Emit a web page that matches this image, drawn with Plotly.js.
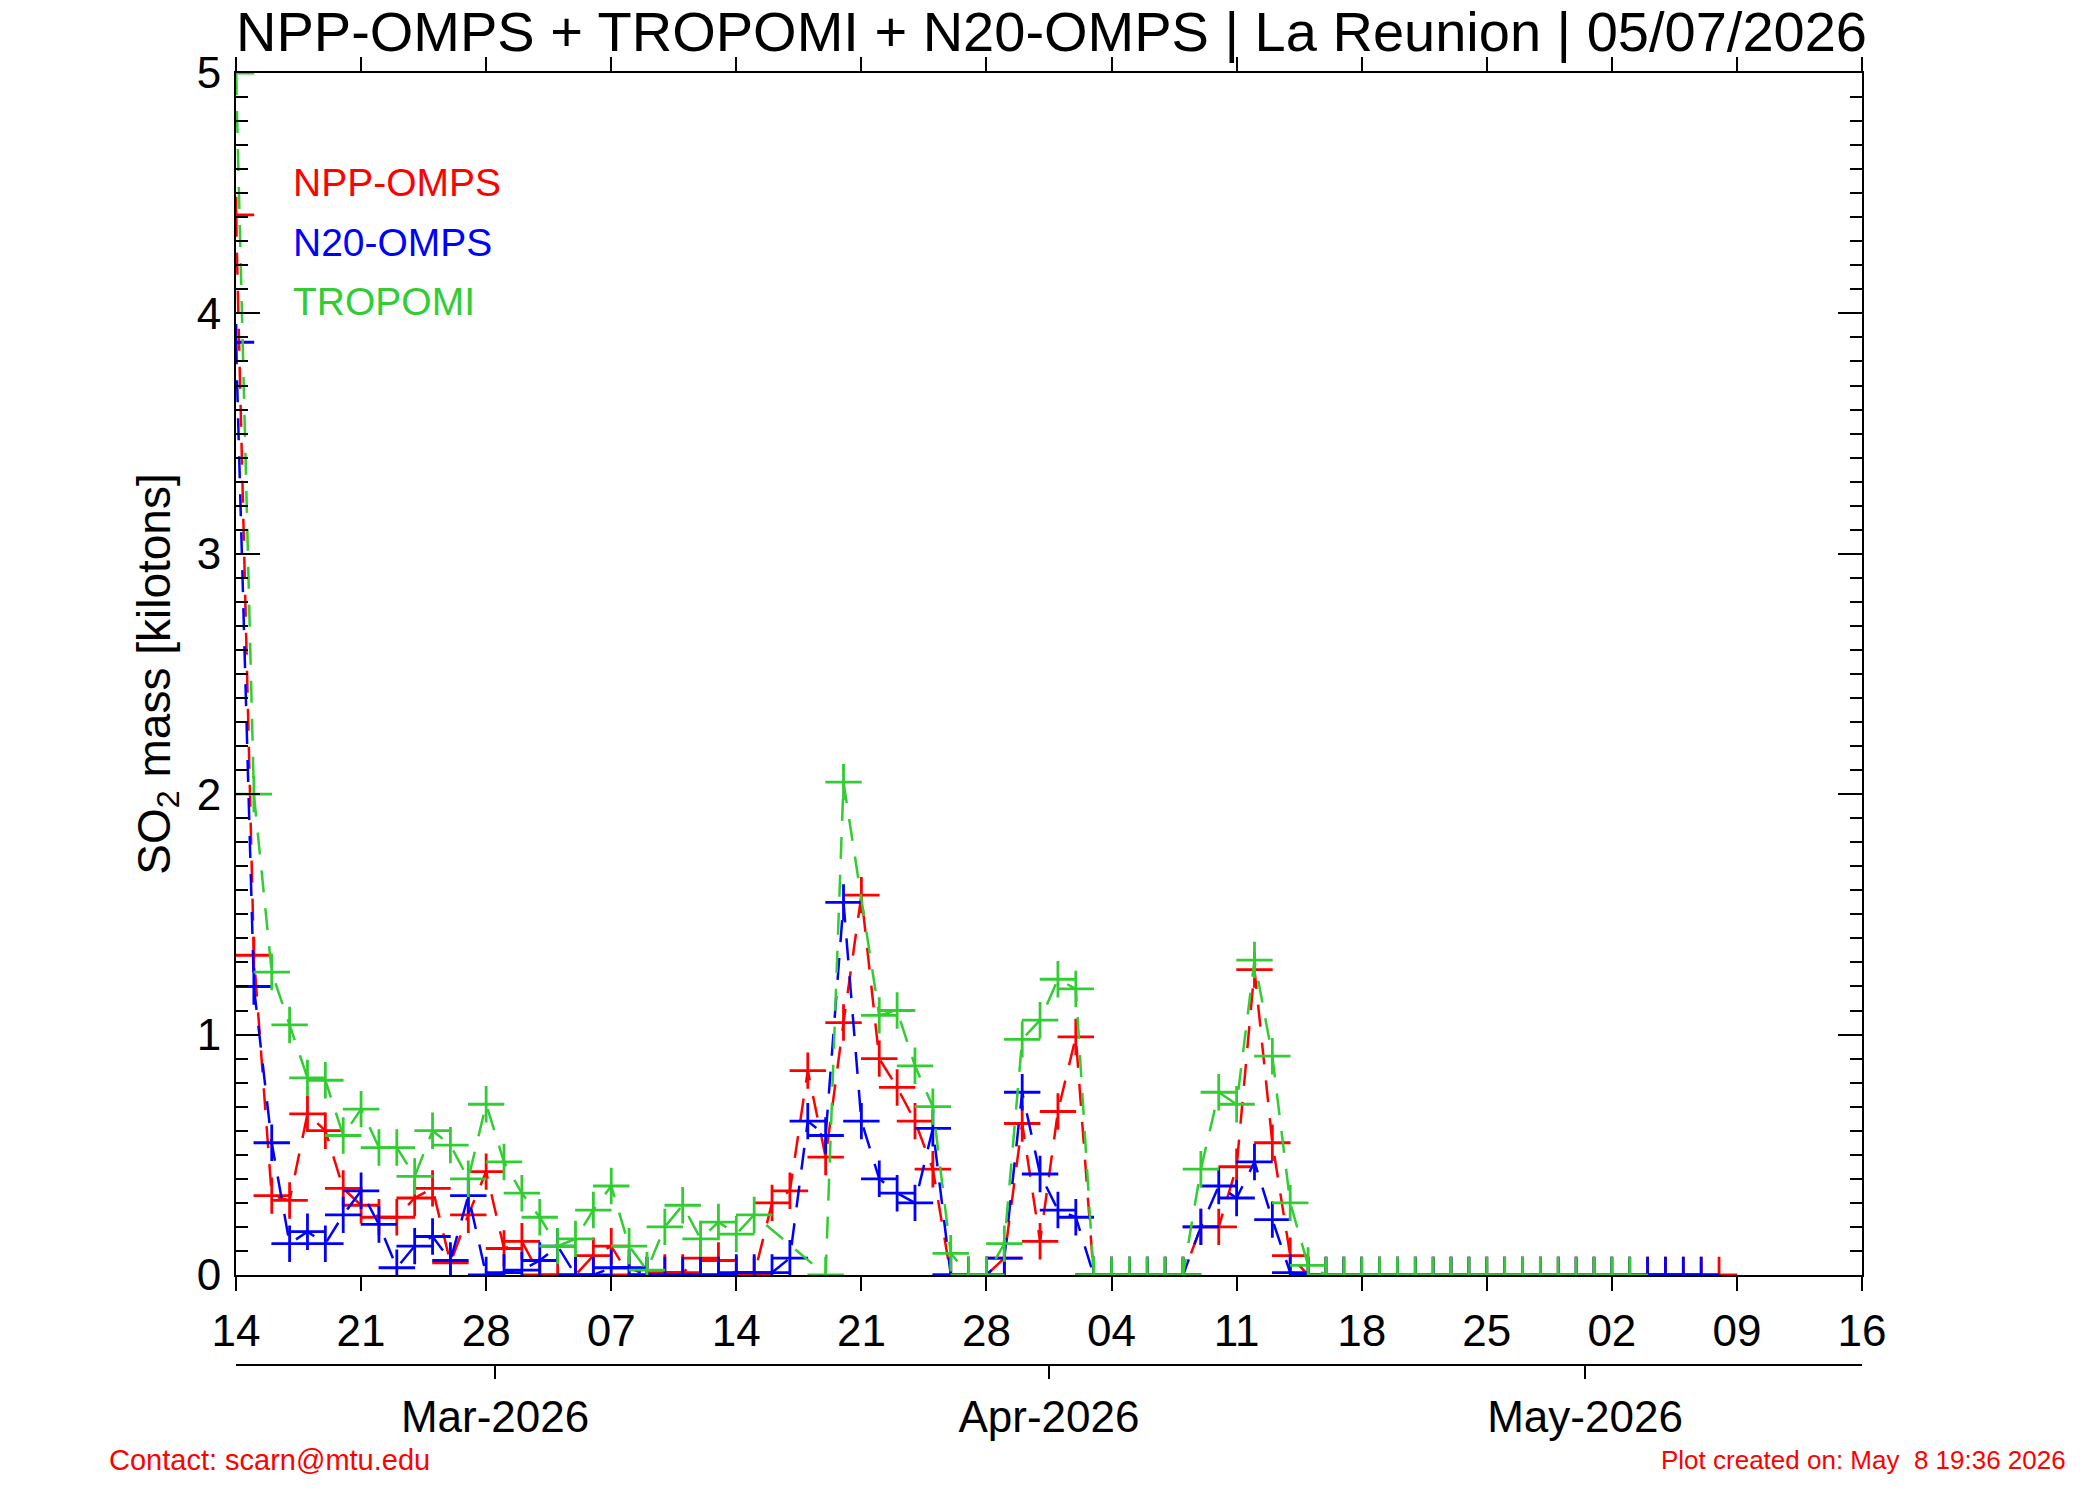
<!DOCTYPE html>
<html>
<head>
<meta charset="utf-8">
<script src="https://cdn.plot.ly/plotly-3.0.1.min.js"></script>
<style>html,body{margin:0;padding:0;background:#fff;}#chart{width:2100px;height:1500px;}</style>
</head>
<body>
<div id="chart"></div>
<script>
// ---- data (daily values, kilotons) ----
const dates = [
 '2026-02-14','2026-02-15','2026-02-16','2026-02-17','2026-02-18','2026-02-19','2026-02-20',
 '2026-02-21','2026-02-22','2026-02-23','2026-02-24','2026-02-25','2026-02-26','2026-02-27',
 '2026-02-28','2026-03-01','2026-03-02','2026-03-03','2026-03-04','2026-03-05','2026-03-06',
 '2026-03-07','2026-03-08','2026-03-09','2026-03-10','2026-03-11','2026-03-12','2026-03-13',
 '2026-03-14','2026-03-15','2026-03-16','2026-03-17','2026-03-18','2026-03-19','2026-03-20',
 '2026-03-21','2026-03-22','2026-03-23','2026-03-24','2026-03-25','2026-03-26','2026-03-27',
 '2026-03-28','2026-03-29','2026-03-30','2026-03-31','2026-04-01','2026-04-02','2026-04-03',
 '2026-04-04','2026-04-05','2026-04-06','2026-04-07','2026-04-08','2026-04-09','2026-04-10',
 '2026-04-11','2026-04-12','2026-04-13','2026-04-14','2026-04-15','2026-04-16','2026-04-17',
 '2026-04-18','2026-04-19','2026-04-20','2026-04-21','2026-04-22','2026-04-23','2026-04-24',
 '2026-04-25','2026-04-26','2026-04-27','2026-04-28','2026-04-29','2026-04-30','2026-05-01',
 '2026-05-02','2026-05-03','2026-05-04','2026-05-05','2026-05-06','2026-05-07','2026-05-08'
];

const nppOmps = [
 4.41,1.33,0.33,0.31,0.67,0.60,0.36,
 0.29,0.24,0.24,0.32,0.36,0.05,0.25,
 0.43,0.11,0.14,0,0,0,0.08,
 0.12,0,0,0.01,0.01,0.07,0.06,
 0,0,0.30,0.35,0.85,0.49,1.05,
 1.58,0.90,0.78,0.64,0.44,0,0,
 0,0.07,0.63,0.14,0.68,0.99,0,
 0,0,0,0,0,0.20,0.20,
 0.45,1.27,0.55,0.08,0,0,0,
 0,0,0,0,0,0,0,
 0,0,0,0,0,0,0,
 0,0,0,0,0,0,0
];

const n20Omps = [
 3.88,1.20,0.55,0.13,0.18,0.13,0.25,
 0.35,0.21,0.03,0.12,0.16,0.06,0.33,
 0,0.01,0.02,0.06,0.12,0,0,
 0.03,0.03,0,0,0,0,0,
 0.01,0.01,0.01,0.07,0.64,0.58,1.55,
 0.64,0.40,0.34,0.30,0.61,0,0,
 0,0.07,0.76,0.42,0.27,0.24,0,
 0,0,0,0,0,0.20,0.37,
 0.32,0.47,0.23,0.01,0,0,0,
 0,0,0,0,0,0,0,
 0,0,0,0,0,0,0,
 0,0,0,0,0,0
];

const tropomi = [
 5.00,2.00,1.26,1.04,0.82,0.81,0.58,
 0.69,0.53,0.53,0.41,0.60,0.54,0.40,
 0.71,0.47,0.34,0.24,0.12,0.15,0.27,
 0.37,0.12,0.02,0.20,0.29,0.15,0.22,
 0.17,0.25,null,null,null,0,2.05,
 null,1.08,1.10,0.87,0.70,0.09,0,
 0,0.13,0.98,1.06,1.23,1.19,0,
 0,0,0,0,0,0.44,0.76,
 0.71,1.31,0.91,0.30,0.04,0,0,
 0,0,0,0,0,0,0,
 0,0,0,0,0,0,0,
 0,0
];

const seriesNames = ['NPP-OMPS', 'N20-OMPS', 'TROPOMI'];
const seriesColors = ['#FF0000', '#0000FF', '#32CD32'];

const xRange = ['2026-02-14', '2026-05-16'];
const monthTickVals = ['2026-02-28 12:00', '2026-03-31 12:00', '2026-04-30 12:00'];
const monthTickText = ['Mar-2026', 'Apr-2026', 'May-2026'];

const titleText = 'NPP-OMPS + TROPOMI + N20-OMPS | La Reunion | 05/07/2026';
const yTitleText = 'SO<sub>2</sub> mass [kilotons]';
const contactText = 'Contact: scarn@mtu.edu';
const createdText = 'Plot created on: May\u00a0 8 19:36 2026';

// ---- traces ----
const seriesValues = [nppOmps, n20Omps, tropomi];
const traces = seriesValues.map((vals, i) => ({
  type: 'scatter',
  mode: 'lines+markers',
  name: seriesNames[i],
  x: dates.slice(0, vals.length),
  y: vals,
  connectgaps: true,
  line: {color: seriesColors[i], width: 2.5, dash: '22px,16px'},
  marker: {symbol: 'cross-thin', size: 26, color: seriesColors[i],
           line: {color: seriesColors[i], width: 2.8}},
  cliponaxis: true,
  showlegend: false,
  hoverinfo: 'skip'
}));
// carrier for the month axis
traces.push({type: 'scatter', mode: 'markers', x: [monthTickVals[0]], y: [0],
  marker: {size: 1, opacity: 0}, xaxis: 'x2', yaxis: 'y', showlegend: false, hoverinfo: 'skip'});

const FONT = 'Liberation Sans, Arial, Helvetica, sans-serif';

const legendY = [0.9156, 0.869, 0.8228];
const annotations = seriesNames.map((n, i) => ({
  text: n, xref: 'paper', yref: 'paper', x: 0.0338, y: legendY[i],
  xanchor: 'left', yanchor: 'middle', showarrow: false,
  font: {family: FONT, size: 39, color: seriesColors[i]}
}));
annotations.push({text: contactText, xref: 'paper', yref: 'paper', x: -0.0793, y: -0.0735,
  xanchor: 'left', yanchor: 'middle', showarrow: false,
  font: {family: FONT, size: 29, color: '#FF0000'}});
annotations.push({text: createdText, xref: 'paper', yref: 'paper', x: 1.1267, y: -0.0735,
  xanchor: 'right', yanchor: 'middle', showarrow: false,
  font: {family: FONT, size: 26, color: '#FF0000'}});

const layout = {
  width: 2100, height: 1500,
  margin: {l: 236, r: 238, t: 73, b: 135, pad: 0},
  paper_bgcolor: '#ffffff', plot_bgcolor: '#ffffff',
  font: {family: FONT, color: '#000000'},
  title: {text: titleText, font: {family: FONT, size: 56, color: '#000'},
          xref: 'paper', x: 0, xanchor: 'left', yref: 'container', y: 0.979, yanchor: 'middle'},
  xaxis: {
    type: 'date', range: xRange, tick0: xRange[0], dtick: 7 * 86400000, tickformat: '%d',
    ticks: 'outside', ticklen: 14, tickwidth: 2, tickcolor: '#000',
    showline: true, linewidth: 2, linecolor: '#000', mirror: 'ticks',
    showgrid: false, zeroline: false, anchor: 'y',
    tickfont: {family: FONT, size: 44, color: '#000'}, ticklabelstandoff: 2
  },
  xaxis2: {
    type: 'date', range: xRange, overlaying: 'x', anchor: 'free', position: 0, side: 'bottom',
    tickmode: 'array', tickvals: monthTickVals, ticktext: monthTickText,
    ticks: 'outside', ticklen: 13, tickwidth: 2, tickcolor: '#000',
    showline: true, linewidth: 2, linecolor: '#000', showgrid: false, zeroline: false,
    tickfont: {family: FONT, size: 44, color: '#000'}, ticklabelstandoff: 0
  },
  yaxis: {
    domain: [0.0697, 1], range: [0, 5], dtick: 1, tick0: 0,
    ticks: 'inside', ticklen: 24, tickwidth: 2, tickcolor: '#000',
    minor: {dtick: 0.1, ticks: 'inside', ticklen: 12, tickwidth: 2, tickcolor: '#000', showgrid: false},
    showline: true, linewidth: 2, linecolor: '#000', mirror: 'ticks',
    showgrid: false, zeroline: false,
    tickfont: {family: FONT, size: 44, color: '#000'}, ticklabelstandoff: 4,
    title: {text: yTitleText, font: {family: FONT, size: 46, color: '#000'}, standoff: 12}
  },
  annotations: annotations,
  showlegend: false
};

Plotly.newPlot('chart', traces, layout, {staticPlot: true});
</script>
</body>
</html>
